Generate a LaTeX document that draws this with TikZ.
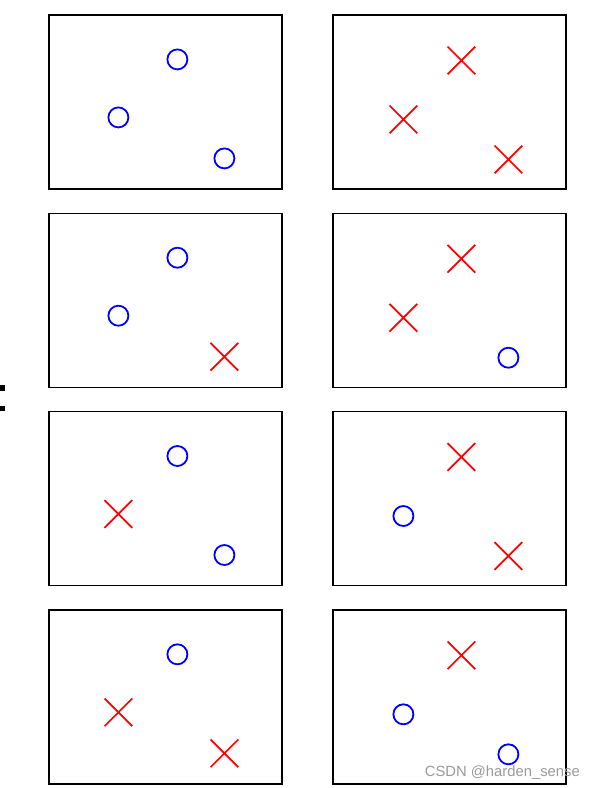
\documentclass[tikz,border=0pt]{standalone}
\usepackage{fontspec}
\newfontfamily\markfont{Liberation Sans}
\usetikzlibrary{shapes.misc}
\definecolor{cmblue}{HTML}{0000FF}
\definecolor{cmred}{HTML}{FF0000}
\definecolor{markgrey}{HTML}{9A9A9A}

\begin{document}
\begin{tikzpicture}[
  x=1pt, y=-1pt,
  panel/.style={draw=black, line width=1.2pt, minimum width=233pt, minimum height=174pt,
                inner sep=0pt},
  sym o/.style={draw=cmblue, circle, line width=1.8pt, minimum size=20pt, inner sep=0pt},
  sym x/.style={draw=cmred, cross out, line width=1.7pt, minimum size=26pt, inner sep=0pt}
]
\useasboundingbox (0,0) rectangle (595,788);
% ================= four rows of panels: all-blue/all-red, then mixed =================
\foreach \r/\a/\b/\c/\d/\e/\f in {1/o/o/o/x/x/x, 2/o/o/x/x/x/o, 3/o/x/o/x/o/x, 4/o/x/x/x/o/o}{
  \node[panel] (pl\r) at (165.5, {102 + (\r-1)*198.3}) {};
  \node[panel] (pr\r) at (449.5, {102 + (\r-1)*198.3}) {};
  % left panel markers
  \node[sym \a] (pl\r-t) at ([shift={(129,45)}]pl\r.north west) {};
  \node[sym \b] (pl\r-l) at ([shift={(70,103)}]pl\r.north west) {};
  \node[sym \c] (pl\r-b) at ([shift={(176,144)}]pl\r.north west) {};
  % right panel markers
  \node[sym \d] (pr\r-t) at ([shift={(129,46)}]pr\r.north west) {};
  \node[sym \e] (pr\r-l) at ([shift={(71,105)}]pr\r.north west) {};
  \node[sym \f] (pr\r-b) at ([shift={(176,145)}]pr\r.north west) {};
}
% cut-off colon at the left edge
\fill[black] (0,385) rectangle (4.5,390.5);
\fill[black] (0,405.5) rectangle (4.5,411);
% watermark
\node[text=markgrey, font=\markfont\fontsize{14.8}{17}\selectfont, anchor=base east, inner sep=0pt]
  (wm) at (580,776) {CSDN @harden\_sense};
\end{tikzpicture}
\end{document}
